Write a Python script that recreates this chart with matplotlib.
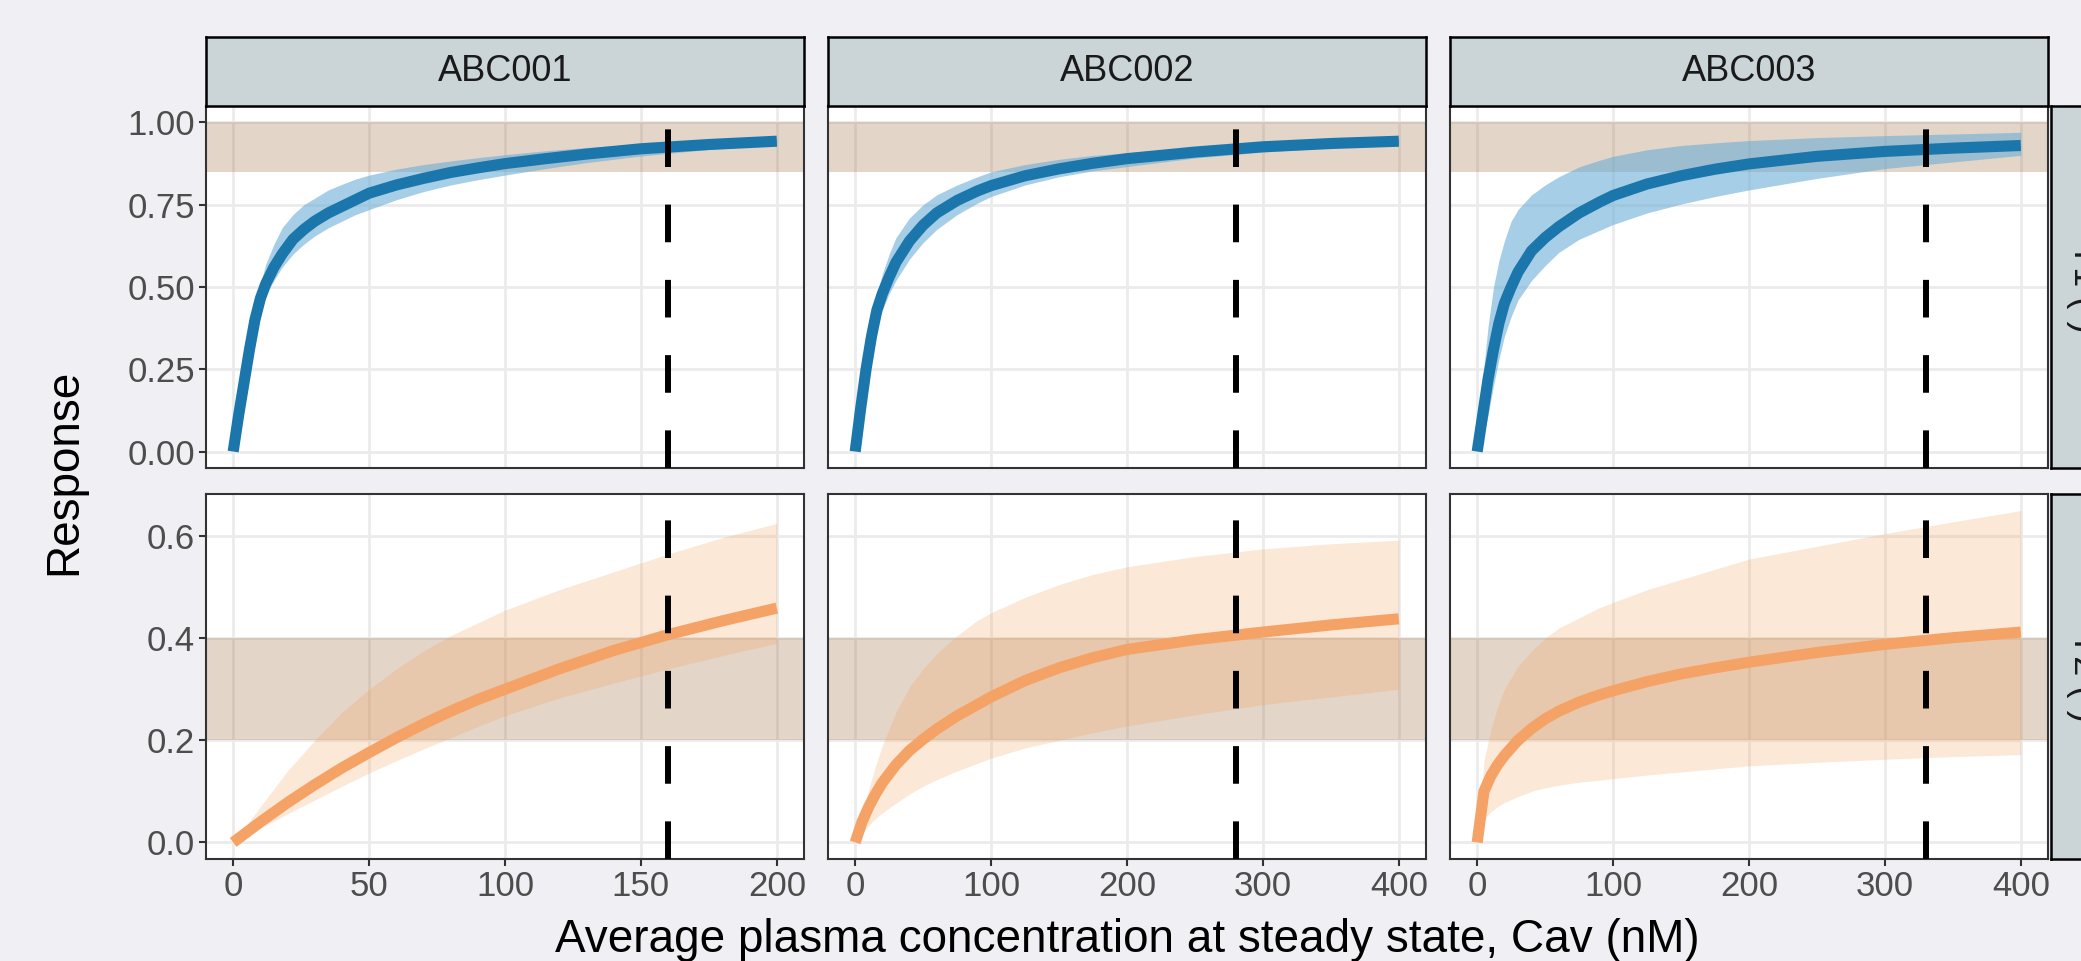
import numpy as np
import matplotlib.pyplot as plt

plt.rcParams['font.family'] = ['Liberation Sans', 'DejaVu Sans']

# facets
compounds = ['ABC001', 'ABC002', 'ABC003']
endpoints = ['Y1 (-)', 'Y2 (-)']
cav_target = [160, 280, 330]
x_ticks = [[0, 50, 100, 150, 200], [0, 100, 200, 300, 400], [0, 100, 200, 300, 400]]
target_band = [(0.85, 1.0), (0.2, 0.4)]
y_ticks = [[0, 0.25, 0.5, 0.75, 1.0], [0, 0.2, 0.4, 0.6]]
y_tick_labels = [['0.00', '0.25', '0.50', '0.75', '1.00'], ['0.0', '0.2', '0.4', '0.6']]

# Y1, ABC001
cav_y1_abc001 = [0, 2, 4, 6, 8, 10, 12, 15, 18, 22, 26, 30, 35, 40, 45, 50, 60, 70, 80, 90, 100, 115, 130, 150, 175, 200]
mid_y1_abc001 = [0, 0.11, 0.21, 0.31, 0.40, 0.465, 0.51, 0.56, 0.60, 0.645, 0.675, 0.70, 0.725, 0.745, 0.765, 0.785,
                 0.81, 0.83, 0.848, 0.862, 0.875, 0.89, 0.904, 0.92, 0.933, 0.943]
lo_y1_abc001 = [0, 0.10, 0.19, 0.28, 0.36, 0.43, 0.475, 0.52, 0.56, 0.60, 0.63, 0.655, 0.68, 0.70, 0.72, 0.735,
                0.765, 0.79, 0.81, 0.826, 0.84, 0.86, 0.878, 0.898, 0.918, 0.932]
hi_y1_abc001 = [0, 0.12, 0.23, 0.34, 0.44, 0.51, 0.57, 0.63, 0.68, 0.72, 0.75, 0.77, 0.795, 0.812, 0.828, 0.84,
                0.858, 0.872, 0.883, 0.893, 0.902, 0.914, 0.924, 0.935, 0.944, 0.952]

# Y1, ABC002
cav_y1_abc002 = [0, 4, 8, 12, 16, 20, 25, 30, 40, 50, 60, 75, 90, 100, 125, 150, 175, 200, 250, 300, 350, 400]
mid_y1_abc002 = [0, 0.13, 0.25, 0.35, 0.43, 0.48, 0.53, 0.575, 0.64, 0.688, 0.725, 0.763, 0.792, 0.808, 0.838, 0.859,
                 0.876, 0.89, 0.91, 0.926, 0.936, 0.943]
lo_y1_abc002 = [0, 0.12, 0.22, 0.31, 0.38, 0.43, 0.48, 0.52, 0.585, 0.635, 0.675, 0.72, 0.755, 0.775, 0.81, 0.835,
                0.853, 0.866, 0.892, 0.91, 0.923, 0.934]
hi_y1_abc002 = [0, 0.15, 0.28, 0.39, 0.48, 0.54, 0.60, 0.65, 0.71, 0.75, 0.78, 0.81, 0.835, 0.85, 0.872, 0.888,
                0.90, 0.908, 0.924, 0.935, 0.944, 0.952]

# Y1, ABC003
cav_y1_abc003 = [0, 4, 8, 12, 16, 20, 25, 30, 40, 50, 60, 75, 90, 100, 125, 150, 175, 200, 250, 300, 350, 400]
mid_y1_abc003 = [0, 0.11, 0.22, 0.31, 0.39, 0.45, 0.50, 0.545, 0.61, 0.65, 0.683, 0.725, 0.758, 0.778, 0.813, 0.838,
                 0.858, 0.874, 0.897, 0.912, 0.922, 0.93]
lo_y1_abc003 = [0, 0.04, 0.11, 0.20, 0.28, 0.35, 0.41, 0.46, 0.52, 0.565, 0.605, 0.645, 0.672, 0.69, 0.725, 0.752,
                0.775, 0.795, 0.83, 0.86, 0.88, 0.90]
hi_y1_abc003 = [0, 0.22, 0.38, 0.50, 0.58, 0.64, 0.70, 0.735, 0.78, 0.81, 0.835, 0.865, 0.885, 0.897, 0.917, 0.93,
                0.938, 0.945, 0.954, 0.96, 0.965, 0.97]

# Y2, ABC001
cav_y2_abc001 = [0, 10, 20, 30, 40, 50, 60, 70, 80, 90, 100, 120, 140, 160, 180, 200]
mid_y2_abc001 = [0, 0.04, 0.078, 0.113, 0.146, 0.176, 0.205, 0.232, 0.257, 0.28, 0.30, 0.34, 0.376, 0.407,
                 0.434, 0.459]
lo_y2_abc001 = [0, 0.028, 0.056, 0.083, 0.11, 0.136, 0.16, 0.183, 0.205, 0.227, 0.248, 0.283, 0.312, 0.34,
                0.366, 0.39]
hi_y2_abc001 = [0, 0.07, 0.14, 0.20, 0.255, 0.30, 0.34, 0.375, 0.405, 0.43, 0.455, 0.495, 0.53, 0.565, 0.597, 0.625]

# Y2, ABC002
cav_y2_abc002 = [0, 5, 10, 15, 20, 30, 40, 50, 60, 75, 90, 100, 125, 150, 175, 200, 250, 300, 350, 400]
mid_y2_abc002 = [0, 0.04, 0.07, 0.095, 0.117, 0.152, 0.18, 0.202, 0.222, 0.248, 0.27, 0.285, 0.317, 0.342, 0.362,
                 0.378, 0.397, 0.412, 0.426, 0.438]
lo_y2_abc002 = [0, 0.018, 0.033, 0.047, 0.058, 0.077, 0.095, 0.11, 0.123, 0.14, 0.155, 0.165, 0.185, 0.20, 0.215,
                0.228, 0.25, 0.27, 0.285, 0.30]
hi_y2_abc002 = [0, 0.055, 0.105, 0.15, 0.19, 0.255, 0.305, 0.34, 0.37, 0.405, 0.435, 0.45, 0.48, 0.505, 0.525,
                0.54, 0.56, 0.575, 0.585, 0.592]

# Y2, ABC003
cav_y2_abc003 = [0, 5, 10, 15, 20, 30, 40, 50, 60, 75, 90, 100, 125, 150, 175, 200, 250, 300, 350, 400]
mid_y2_abc003 = [0, 0.10, 0.13, 0.152, 0.17, 0.20, 0.223, 0.242, 0.257, 0.275, 0.289, 0.297, 0.315, 0.33, 0.342,
                 0.353, 0.372, 0.388, 0.401, 0.412]
lo_y2_abc003 = [0, 0.045, 0.06, 0.07, 0.078, 0.09, 0.10, 0.107, 0.112, 0.118, 0.122, 0.125, 0.132, 0.138, 0.144,
                0.15, 0.157, 0.163, 0.168, 0.172]
hi_y2_abc003 = [0, 0.16, 0.22, 0.265, 0.30, 0.345, 0.375, 0.40, 0.42, 0.44, 0.46, 0.47, 0.495, 0.515, 0.535,
                0.555, 0.58, 0.605, 0.628, 0.65]

curves = [
    [(cav_y1_abc001, mid_y1_abc001, lo_y1_abc001, hi_y1_abc001),
     (cav_y1_abc002, mid_y1_abc002, lo_y1_abc002, hi_y1_abc002),
     (cav_y1_abc003, mid_y1_abc003, lo_y1_abc003, hi_y1_abc003)],
    [(cav_y2_abc001, mid_y2_abc001, lo_y2_abc001, hi_y2_abc001),
     (cav_y2_abc002, mid_y2_abc002, lo_y2_abc002, hi_y2_abc002),
     (cav_y2_abc003, mid_y2_abc003, lo_y2_abc003, hi_y2_abc003)],
]

line_colors = ['#1a76ab', '#f5a267']
ribbon_colors = [('#6baed6', 0.6), ('#f4a460', 0.25)]
band_color = '#935b23'
bg = '#f0f0f4'
strip_fill = '#cbd5d8'

W, H = 2081, 961
fig = plt.figure(figsize=(W / 100, H / 100), dpi=100, facecolor=bg)


def px_rect(left, top, width, height):
    return [left / W, 1 - (top + height) / H, width / W, height / H]


col_left = [206, 828, 1450]
col_w = 598
row_top = [106, 494]
row_h = [362, 365]

for r in range(2):
    # shared y range per row, ggplot style 5% expansion
    y_hi = max(target_band[r][1], max(max(c[3]) for c in curves[r]))
    y_lo = 0
    pad_y = 0.05 * (y_hi - y_lo)
    for c in range(3):
        ax = fig.add_axes(px_rect(col_left[c], row_top[r], col_w, row_h[r]))
        ax.set_facecolor('white')
        cav, mid, lo, hi = curves[r][c]
        x_hi = max(x_ticks[c])
        ax.set_xlim(-0.05 * x_hi, 1.05 * x_hi)
        ax.set_ylim(y_lo - pad_y, y_hi + pad_y)

        ax.axhspan(target_band[r][0], target_band[r][1], color=band_color, alpha=0.25, lw=0, zorder=1)
        col, a = ribbon_colors[r]
        ax.fill_between(cav, lo, hi, color=col, alpha=a, lw=0, zorder=2)
        ax.plot(cav, mid, color=line_colors[r], lw=8, solid_capstyle='butt',
                solid_joinstyle='round', zorder=3)
        ax.axvline(cav_target[c], color='black', lw=4.3, linestyle=(0, (6.3, 6.3)),
                   dash_capstyle='butt', zorder=4)

        ax.set_xticks(x_ticks[c])
        ax.set_yticks(y_ticks[r])
        ax.grid(True, color='#ebebeb', lw=2)
        ax.set_axisbelow(True)
        for s in ax.spines.values():
            s.set_color('#333333')
            s.set_linewidth(1.5)
        ax.tick_params(length=5, width=1.5, color='#333333', labelsize=25,
                       labelcolor='#4d4d4d', pad=3)
        if c == 0:
            ax.set_yticklabels(y_tick_labels[r])
        else:
            ax.tick_params(axis='y', length=0, labelleft=False)
        if r == 1:
            ax.set_xticklabels([str(t) for t in x_ticks[c]])
        else:
            ax.tick_params(axis='x', length=0, labelbottom=False)

# strips on top
for c in range(3):
    sax = fig.add_axes(px_rect(col_left[c], 37, col_w, 69))
    sax.set_facecolor(strip_fill)
    sax.set_xticks([])
    sax.set_yticks([])
    for s in sax.spines.values():
        s.set_color('black')
        s.set_linewidth(1.8)
    sax.text(0.5, 0.5, compounds[c], ha='center', va='center', fontsize=26, color='#1a1a1a',
             transform=sax.transAxes)

# strips on the right (run off the figure edge, as in the original)
for r in range(2):
    sax = fig.add_axes(px_rect(2051, row_top[r], 66, row_h[r]))
    sax.set_facecolor(strip_fill)
    sax.set_xticks([])
    sax.set_yticks([])
    for s in sax.spines.values():
        s.set_color('black')
        s.set_linewidth(1.8)
    sax.text(0.5, 0.5, endpoints[r], ha='center', va='center', rotation=-90, fontsize=26,
             color='#1a1a1a', transform=sax.transAxes)

fig.text(1127 / W, 9 / H, 'Average plasma concentration at steady state, Cav (nM)',
         ha='center', va='baseline', fontsize=33, color='black')
fig.text(64 / W, 1 - 472 / H, 'Response', ha='center', va='center', rotation=90,
         fontsize=33, color='black')

fig.savefig('out.png', dpi=100, facecolor=bg)
